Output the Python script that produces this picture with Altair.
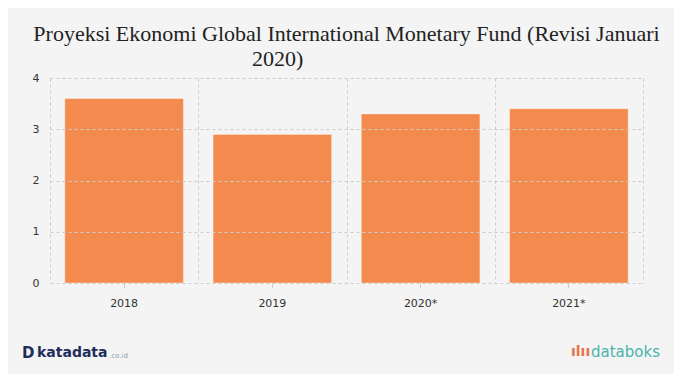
import altair as alt
import pandas as pd

years = ["2018", "2019", "2020*", "2021*"]
growth = [3.6, 2.9, 3.3, 3.4]
title_lines = ["Proyeksi Ekonomi Global International Monetary Fund (Revisi Januari",
               "2020)" + "\u00a0" * 25 + "\u200b"]

df = pd.DataFrame({"year": years, "value": growth})

yscale = alt.Scale(domain=[0, 4])
yaxis = alt.Axis(values=[0, 1, 2, 3, 4], grid=True, gridColor="#cccccc",
                 gridDash=[3, 3], domain=False, ticks=False,
                 labelFont="DejaVu Sans", labelFontSize=11, labelColor="#333333",
                 labelPadding=11, zindex=1)

grid = alt.Chart(df).mark_bar(opacity=0).encode(
    x=alt.X("year:N", sort=None, scale=alt.Scale(paddingInner=0, paddingOuter=0), title=None,
            axis=alt.Axis(orient="bottom", labels=False, ticks=False, domain=False,
                          grid=True, tickBand="extent", gridColor="#cccccc",
                          gridDash=[3, 3], zindex=1)),
    y=alt.Y("value:Q", scale=yscale, title=None, axis=yaxis),
)

bars = alt.Chart(df).mark_bar(color="#f48b4e", stroke="#ffffff", strokeOpacity=0.35,
                              strokeWidth=1).encode(
    x=alt.X("year:N", sort=None, scale=alt.Scale(paddingInner=0.2, paddingOuter=0.1),
            title=None,
            axis=alt.Axis(orient="bottom", grid=False, domain=False, ticks=True,
                          tickSize=5, tickColor="#cccccc", labelAngle=0,
                          labelFont="DejaVu Sans", labelFontSize=11, labelColor="#333333",
                          labelPadding=9)),
    y=alt.Y("value:Q", scale=yscale, title=None, axis=yaxis),
)

dmark = alt.Chart(pd.DataFrame({"t": ["D"]})).mark_text(font="DejaVu Sans", fontSize=15,
        fontWeight="bold", color="#1f2d5c", align="left", baseline="middle").encode(
    x=alt.value(-28), y=alt.value(275), text="t:N")
kata = alt.Chart(pd.DataFrame({"t": ["katadata"]})).mark_text(font="DejaVu Sans", fontSize=14,
        fontWeight="bold", color="#1f2d5c", align="left", baseline="middle").encode(
    x=alt.value(-13), y=alt.value(275), text="t:N")
coid = alt.Chart(pd.DataFrame({"t": [".co.id"]})).mark_text(font="DejaVu Sans", fontSize=7,
        color="#8a9aa8", align="left", baseline="middle").encode(
    x=alt.value(59), y=alt.value(278), text="t:N")
dbicon = alt.Chart(pd.DataFrame({"t": ["ılıı"]})).mark_text(font="DejaVu Sans",
        fontSize=14, fontWeight="bold", color="#e8734a", align="left", baseline="middle").encode(
    x=alt.value(521), y=alt.value(274), text="t:N")
databoks = alt.Chart(pd.DataFrame({"t": ["databoks"]})).mark_text(font="DejaVu Sans",
        fontSize=15, color="#4bb3ad", align="left", baseline="middle").encode(
    x=alt.value(541), y=alt.value(274), text="t:N")

chart = alt.layer(grid, bars, dmark, kata, coid, dbicon, databoks).resolve_scale(
    x="independent"
).resolve_axis(
    x="independent"
).properties(
    width=593, height=205,
    title=alt.TitleParams(title_lines, font="Liberation Serif", fontSize=22,
                          fontWeight="normal", color="#222222", anchor="middle",
                          offset=1, lineHeight=25),
    background="#f4f4f4",
    padding={"left": 42, "top": 70, "right": 31, "bottom": 91},
    autosize=alt.AutoSizeParams(type="none"),
).configure_view(strokeWidth=0)

chart.save("out.html", embed_options={"renderer": "svg", "actions": False})
